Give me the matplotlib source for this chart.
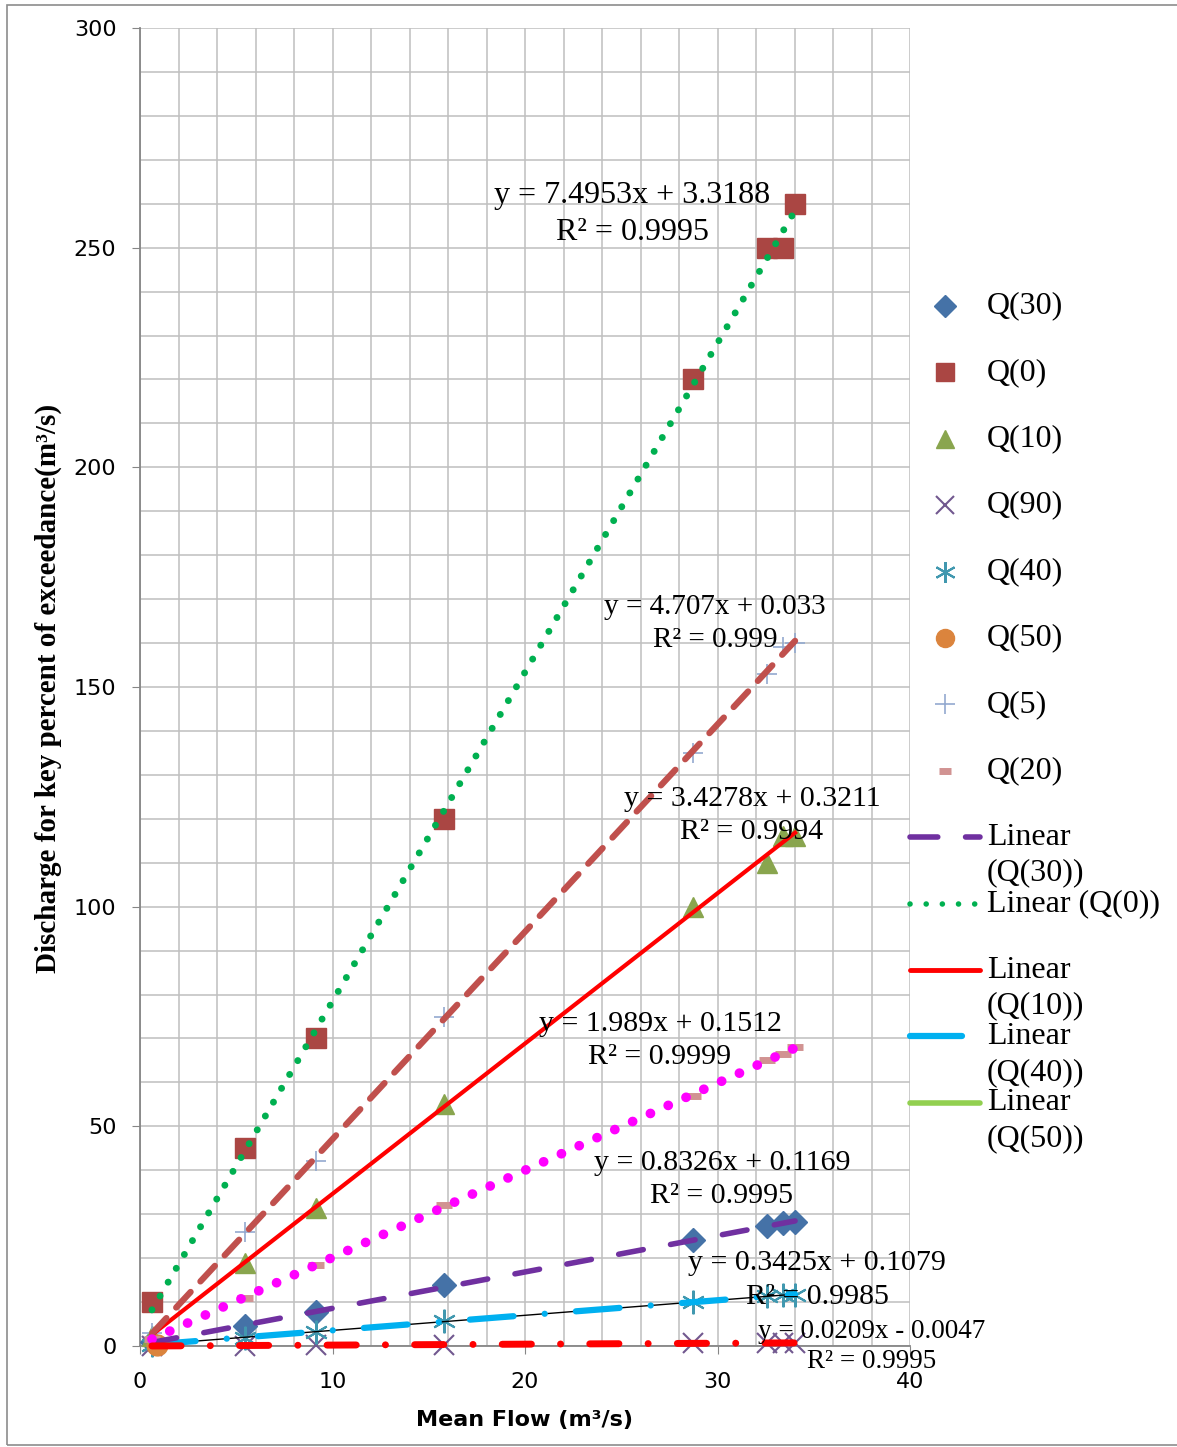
import numpy as np
import matplotlib
matplotlib.use("Agg")
import matplotlib.pyplot as plt
from matplotlib.lines import Line2D
from matplotlib.patches import Rectangle

W, H = 1177, 1447

# ── data ──
mean_flow = [0.62, 5.45, 9.14, 15.79, 28.73, 32.57, 33.40, 34.03]
q0 = [10, 45, 70, 120, 220, 250, 250, 260]
q5 = [3, 26, 42, 75, 135, 153, 159, 160]
q10 = [2.3, 19, 31.5, 55, 100, 110, 116, 116]
q20 = [1.5, 11, 18.5, 32, 57, 65, 66.5, 68]
q30 = [0.8, 4.6, 7.7, 13.9, 24.1, 27.3, 28, 28.2]
q40 = [0.3, 1.9, 3.3, 5.7, 10, 11.3, 11.6, 11.7]
q50_x = [0.87]
q50 = [0.3]
q90 = [0.01, 0.11, 0.19, 0.33, 0.60, 0.68, 0.70, 0.71]

equations = [
    ("y = 7.4953x + 3.3188", "R² = 0.9995", 632, 195, 232, 23),
    ("y = 4.707x + 0.033", "R² = 0.999", 715, 607, 640, 21),
    ("y = 3.4278x + 0.3211", "R² = 0.9994", 752, 799, 832, 21.5),
    ("y = 1.989x + 0.1512", "R² = 0.9999", 660, 1024, 1057, 21.5),
    ("y = 0.8326x + 0.1169", "R² = 0.9995", 722, 1163, 1196, 21.5),
    ("y = 0.3425x + 0.1079", "R² = 0.9985", 817, 1263, 1297, 21.5),
    ("y = 0.0209x - 0.0047", "R² = 0.9995", 872, 1331, 1361, 19.5),
]

serif = "Liberation Serif"

def fx(px):
    return px / W

def fy(py):
    return 1 - py / H

fig = plt.figure(figsize=(W / 100, H / 100), dpi=100)
fig.add_artist(Rectangle((fx(7), fy(1445)), 1.0, fy(4.5) - fy(1445), transform=fig.transFigure,
                         fill=False, edgecolor="#8c8c8c", lw=1.2))

ax = fig.add_axes([fx(140), fy(1346), fx(910) - fx(140), fy(28) - fy(1346)])
ax.set_xlim(0, 40)
ax.set_ylim(0, 300)
ax.set_xticks(np.arange(0, 41, 10))
ax.set_yticks(np.arange(0, 301, 50))
ax.set_xticks(np.arange(0, 41, 2), minor=True)
ax.set_yticks(np.arange(0, 301, 10), minor=True)
ax.grid(True, which="both", color="#bfbfbf", lw=1.1, zorder=0)
ax.set_axisbelow(True)
for s in ["top", "right"]:
    ax.spines[s].set_visible(False)
for s in ["left", "bottom"]:
    ax.spines[s].set_color("#868686")
    ax.spines[s].set_linewidth(1.3)
ax.tick_params(which="major", length=6, color="#868686", labelsize=16, pad=11)
ax.tick_params(which="minor", length=0)
ax.tick_params(axis="x", which="major", pad=13)

x = np.array(mean_flow)

# ── markers ──
mk = dict(ls="none", zorder=3, clip_on=False)
ax.plot(x, q30, marker="D", ms=12, color="#4572A7", **mk)
ax.plot(x, q0, marker="s", ms=15, color="#AA4643", **mk)
ax.plot(x, q10, marker="^", ms=15, color="#89A54E", **mk)
ax.plot(x, q90, marker="x", ms=15, mew=1.5, color="#71588F", **mk)
ax.plot(x, q40, marker=(6, 2, 0), ms=17, mew=1.5, color="#4198AF", **mk)
ax.plot(q50_x, q50, marker="o", ms=15, color="#DB843D", **mk)
ax.plot(x, q5, marker="+", ms=15, mew=1.2, color="#93A9CF", **mk)
ax.plot(x, q20, marker="_", ms=11, mew=5, color="#D19392", **mk)

# ── linear trendlines (least squares fits) ──
def trend(yv, **kw):
    k, b = np.polyfit(x, yv, 1)
    xx = np.array([x.min(), x.max()])
    ax.plot(xx, k * xx + b, zorder=4, clip_on=False, **kw)

trend(q40, color="black", lw=1.0)
trend(q40, color="#00B0F0", lw=4.5, ls=(0, (7, 5, 0.01, 5)), dash_capstyle="round")
trend(q30, color="#7030A0", lw=4, ls=(0, (4.5, 5)), dash_capstyle="round")
trend(q0, color="#00B050", lw=5, ls=(0, (0.01, 2.3)), dash_capstyle="round")
trend(q10, color="#FF0000", lw=3)
trend(q5, color="#C0504D", lw=4.5, ls=(0, (3.4, 2.3)), dash_capstyle="round")
trend(q20, color="#FF00FF", lw=7, ls=(0, (0.01, 2.0)), dash_capstyle="round")
trend(q90, color="#FF0000", lw=5, ls=(0, (4.2, 4.2, 0.01, 4.2)), dash_capstyle="round")

# ── equation labels ──
for eq, r2, cx, y1, y2, fs in equations:
    fig.text(fx(cx), fy(y1), eq, family=serif, fontsize=fs, ha="center", va="center", zorder=6)
    fig.text(fx(cx), fy(y2), r2, family=serif, fontsize=fs, ha="center", va="center", zorder=6)

# ── axis labels ──
fig.text(fx(525), fy(1420), "Mean Flow (m³/s)", fontsize=16, fontweight="bold", ha="center", va="center")
fig.text(fx(48), fy(688), "Discharge for key percent of exceedance(m³/s)", family=serif, fontsize=21,
         fontweight="bold", rotation=90, ha="center", va="center")

# ── legend (drawn by hand, Excel-style) ──
mk_entries = [
    ("Q(30)", dict(marker="D", ms=11, color="#4572A7")),
    ("Q(0)", dict(marker="s", ms=13, color="#AA4643")),
    ("Q(10)", dict(marker="^", ms=13, color="#89A54E")),
    ("Q(90)", dict(marker="x", ms=13, mew=1.5, color="#71588F")),
    ("Q(40)", dict(marker=(6, 2, 0), ms=15, mew=1.5, color="#4198AF")),
    ("Q(50)", dict(marker="o", ms=13, color="#DB843D")),
    ("Q(5)", dict(marker="+", ms=14, mew=1.2, color="#93A9CF")),
    ("Q(20)", dict(marker="_", ms=8, mew=5, color="#D19392")),
]
row0, step = 306, 66.4
for i, (lab, kw) in enumerate(mk_entries):
    yy = row0 + i * step
    fig.add_artist(Line2D([fx(945)], [fy(yy)], ls="none", transform=fig.transFigure, **kw))
    fig.text(fx(987), fy(yy), lab, family=serif, fontsize=23, ha="left", va="center")

ln_entries = [
    (["Linear", "(Q(30))"], 910, 980, dict(color="#7030A0", lw=4, ls=(0, (5, 5)), dash_capstyle="round")),
    (["Linear (Q(0))"], 910, 980, dict(color="#00B050", lw=4, ls=(0, (0.01, 2.9)), dash_capstyle="round")),
    (["Linear", "(Q(10))"], 910, 980, dict(color="#FF0000", lw=3.5, solid_capstyle="round")),
    (["Linear", "(Q(40))"], 910, 962, dict(color="#00B0F0", lw=4.5, solid_capstyle="round")),
    (["Linear", "(Q(50))"], 910, 980, dict(color="#92D050", lw=4, solid_capstyle="round")),
]
for j, (lines, x0, x1, kw) in enumerate(ln_entries):
    yy = row0 + (len(mk_entries) + j) * step
    fig.add_artist(Line2D([fx(x0), fx(x1)], [fy(yy), fy(yy)], transform=fig.transFigure, **kw))
    for n, txt in enumerate(lines):
        fig.text(fx(987), fy(yy + 36 * n), txt, family=serif, fontsize=23, ha="left", va="center")

fig.savefig("out.png", dpi=100)
